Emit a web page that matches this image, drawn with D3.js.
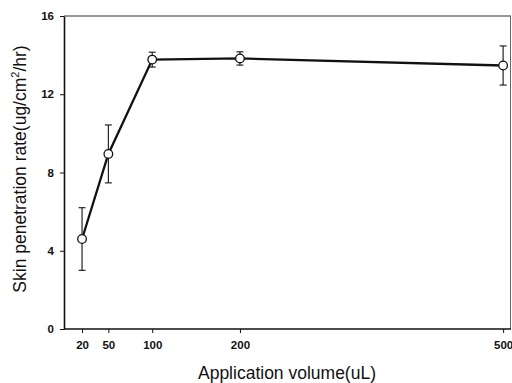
<!DOCTYPE html>
<html>
<head>
<meta charset="utf-8">
<script src="https://cdn.jsdelivr.net/npm/d3@7"></script>
<style>
  html, body { margin: 0; padding: 0; background: #fff; }
  svg { display: block; }
  text { font-family: "Liberation Sans", Arial, sans-serif; fill: #111; }
</style>
</head>
<body>
<div id="chart"></div>
<script>
// Application volume (uL) vs. skin penetration rate (ug/cm2/hr), mean ± SD
const volumes = [20, 50, 100, 200, 500];
const rates = [4.6, 8.95, 13.77, 13.83, 13.47];
const errors = [1.6, 1.48, 0.38, 0.34, 1.0];
const xTicks = [20, 50, 100, 200, 500];
const yTicks = [0, 4, 8, 12, 16];

const W = 512, H = 383;
const margin = { left: 64, right: 1, top: 16, bottom: 54 };

const svg = d3.select("#chart").append("svg")
  .attr("width", W).attr("height", H);

const x = d3.scaleLinear().domain([0, 509]).range([margin.left + 0.5, W - margin.right]);
const y = d3.scaleLinear().domain([0, 16]).range([H - margin.bottom, margin.top]);

// frame: top and right edges
svg.append("line")
  .attr("x1", margin.left).attr("x2", W - margin.right)
  .attr("y1", y(16)).attr("y2", y(16))
  .attr("stroke", "#333").attr("stroke-width", 1.2);
svg.append("line")
  .attr("x1", W - margin.right - 0.5).attr("x2", W - margin.right - 0.5)
  .attr("y1", y(16)).attr("y2", y(0))
  .attr("stroke", "#666").attr("stroke-width", 1);

// axes
const xAxis = svg.append("g")
  .attr("transform", `translate(0,${y(0)})`)
  .call(d3.axisBottom(x).tickValues(xTicks).tickSize(4).tickPadding(8).tickSizeOuter(0));
const yAxis = svg.append("g")
  .attr("transform", `translate(${margin.left},0)`)
  .call(d3.axisLeft(y).tickValues(yTicks).tickSize(4).tickPadding(6).tickSizeOuter(0));

[xAxis, yAxis].forEach(g => {
  g.select(".domain").attr("stroke", "#111").attr("stroke-width", 1.6);
  g.selectAll(".tick line").attr("stroke", "#111").attr("stroke-width", 1);
  g.selectAll(".tick text")
    .attr("font-family", "'Liberation Sans', Arial, sans-serif")
    .attr("font-size", 11.5).attr("font-weight", "bold").attr("fill", "#111");
});
// the domain line for x runs from the y axis to the right edge
xAxis.select(".domain").attr("d", `M${margin.left},0H${W - margin.right}`);

// axis titles
svg.append("text")
  .attr("x", 287).attr("y", 379)
  .attr("text-anchor", "middle")
  .attr("font-size", 17.5)
  .text("Application volume(uL)");

const yTitle = svg.append("text")
  .attr("transform", `translate(26,169) rotate(-90)`)
  .attr("text-anchor", "middle")
  .attr("font-size", 17.5);
yTitle.append("tspan").text("Skin penetration rate(ug/cm");
yTitle.append("tspan").attr("dy", -7).attr("font-size", 11).text("2");
yTitle.append("tspan").attr("dy", 7).text("/hr)");

const data = volumes.map((v, i) => ({ v, r: rates[i], e: errors[i] }));

// error bars
const eb = svg.append("g").attr("stroke", "#111").attr("stroke-width", 1.1);
data.forEach(d => {
  const cx = x(d.v);
  eb.append("line").attr("x1", cx).attr("x2", cx).attr("y1", y(d.r + d.e)).attr("y2", y(d.r - d.e));
  eb.append("line").attr("x1", cx - 3.5).attr("x2", cx + 3.5).attr("y1", y(d.r + d.e)).attr("y2", y(d.r + d.e));
  eb.append("line").attr("x1", cx - 3.5).attr("x2", cx + 3.5).attr("y1", y(d.r - d.e)).attr("y2", y(d.r - d.e));
});

// line
svg.append("path")
  .datum(data)
  .attr("fill", "none").attr("stroke", "#111").attr("stroke-width", 2.3)
  .attr("d", d3.line().x(d => x(d.v)).y(d => y(d.r)));

// markers
svg.append("g").selectAll("circle").data(data).join("circle")
  .attr("cx", d => x(d.v)).attr("cy", d => y(d.r)).attr("r", 4.3)
  .attr("fill", "#fff").attr("stroke", "#111").attr("stroke-width", 1.3);
</script>
</body>
</html>
